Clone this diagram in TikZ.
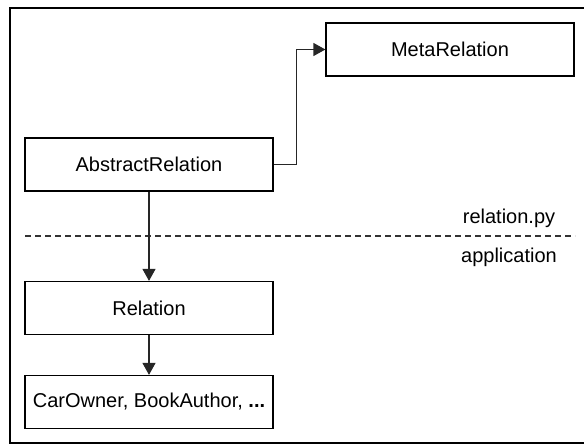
\documentclass[tikz,border=0pt]{standalone}
\usepackage{fontspec}
\setmainfont{Liberation Sans}
\usetikzlibrary{arrows.meta}
\begin{document}
\begin{tikzpicture}[x=1pt,y=-1pt,
  box/.style={draw=black, line width=1.2pt, minimum width=248pt, minimum height=53pt, inner sep=0pt, font=\fontsize{20}{24}\selectfont},
  conn/.style={draw=black!85, line width=1.2pt},
  arr/.style={conn, -{Triangle[length=12pt,width=13pt]}},
  lbl/.style={font=\fontsize{20}{24}\selectfont, anchor=base, inner sep=0pt}]
\useasboundingbox (0,0) rectangle (584,445);
\begin{scope}
\clip (0,0) rectangle (584,445);
\draw[line width=1.5pt] (10,8) rectangle (600,443);
\end{scope}
\node[box] (meta) at (450,49.5) {MetaRelation};
\node[box] (abs) at (149,164.5) {AbstractRelation};
\node[box] (rel) at (149,308) {Relation};
\node[box] (car) at (149,402) {CarOwner, BookAuthor, \textbf{...}};
\coordinate (dl) at (25,236);
\coordinate (dr) at (575,236);
\draw[draw=black!80, line width=1.2pt, dash pattern=on 6pt off 4pt] (dl) -- (dr);
\node[lbl] (py) at (509,223) {relation.py};
\node[lbl] (app) at (509,262) {application};
\draw[arr] (abs.east) -- ++(23,0) |- (meta.west);
\draw[arr] (abs) -- (rel);
\draw[arr] (rel) -- (car);
\end{tikzpicture}
\end{document}
